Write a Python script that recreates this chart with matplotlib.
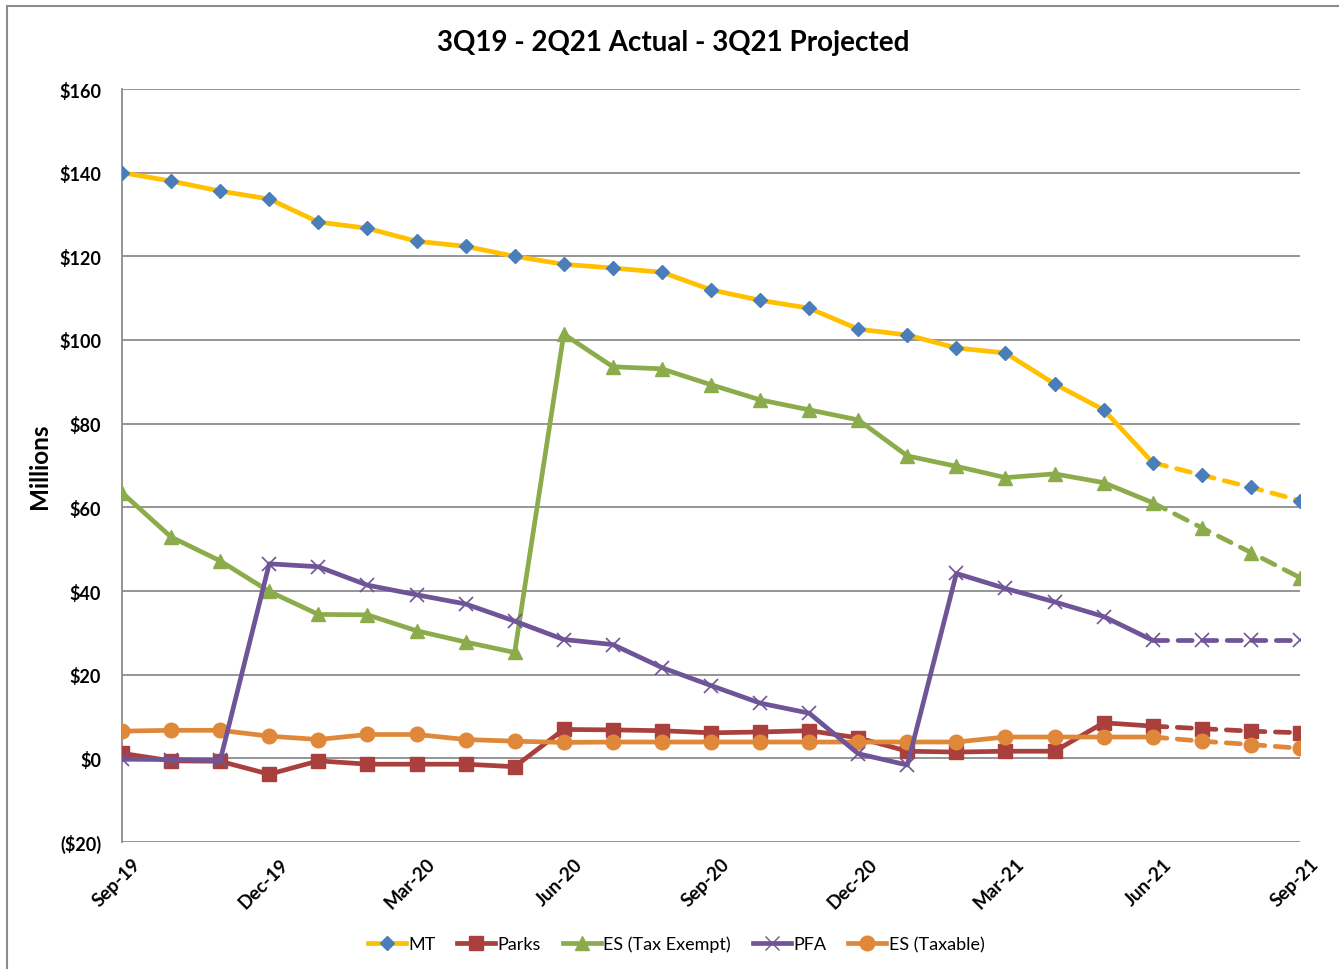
import matplotlib
matplotlib.use('Agg')

import matplotlib.pyplot as plt
import matplotlib.transforms as mtransforms
from matplotlib.lines import Line2D
from matplotlib.patches import Rectangle

# Monthly points, Sep-19 .. Sep-21
months = ['Sep-19', 'Oct-19', 'Nov-19', 'Dec-19', 'Jan-20', 'Feb-20', 'Mar-20', 'Apr-20',
          'May-20', 'Jun-20', 'Jul-20', 'Aug-20', 'Sep-20', 'Oct-20', 'Nov-20', 'Dec-20',
          'Jan-21', 'Feb-21', 'Mar-21', 'Apr-21', 'May-21', 'Jun-21', 'Jul-21', 'Aug-21',
          'Sep-21']

mt = [140.0, 138.0, 135.6, 133.7, 128.2, 126.7, 123.6, 122.4, 120.0, 118.1, 117.2, 116.2,
      112.0, 109.5, 107.6, 102.6, 101.2, 98.1, 96.9, 89.5, 83.3, 70.7, 67.7, 64.8, 61.6]
parks = [1.2, -0.6, -0.7, -3.8, -0.6, -1.4, -1.4, -1.4, -2.0, 6.9, 6.8, 6.6,
         6.1, 6.3, 6.6, 4.9, 1.7, 1.5, 1.7, 1.7, 8.5, 7.7, 7.1, 6.5, 6.1]
es_exempt = [63.5, 52.9, 47.2, 39.9, 34.4, 34.3, 30.5, 27.8, 25.3, 101.4, 93.6, 93.1,
             89.3, 85.7, 83.3, 80.9, 72.3, 69.8, 67.1, 68.0, 65.9, 61.1, 55.1, 49.2, 43.2]
pfa = [-0.2, -0.3, -0.5, 46.5, 45.8, 41.4, 39.1, 36.9, 32.8, 28.4, 27.2, 21.7,
       17.4, 13.2, 10.8, 1.1, -1.6, 44.2, 40.6, 37.4, 33.9, 28.2, 28.2, 28.2, 28.2]
es_taxable = [6.5, 6.7, 6.7, 5.3, 4.5, 5.7, 5.7, 4.5, 4.1, 3.8, 3.9, 3.9,
              3.9, 3.9, 3.9, 3.9, 3.9, 3.9, 5.1, 5.1, 5.1, 5.1, 4.1, 3.3, 2.4]

last_actual = months.index('Jun-21')
tick_months = months[::3]
y_ticks = [-20, 0, 20, 40, 60, 80, 100, 120, 140, 160]

FONT = ['Lato', 'DejaVu Sans']
plt.rcParams['font.family'] = FONT

series = [
    # label, values, line colour, marker, marker face, marker edge, size
    ('MT', mt, '#FFC000', 'D', '#4A7EBB', '#4A7EBB', 7.5),
    ('Parks', parks, '#A9403D', 's', '#A9403D', '#A9403D', 9.5),
    ('ES (Tax Exempt)', es_exempt, '#8CAC4C', '^', '#8CAC4C', '#8CAC4C', 10.5),
    ('PFA', pfa, '#6F5597', 'x', '#6F5597', '#6F5597', 9.5),
    ('ES (Taxable)', es_taxable, '#E0883A', 'o', '#E0883A', '#E0883A', 10.5),
]
zorders = {'MT': 6, 'Parks': 3, 'ES (Tax Exempt)': 4, 'PFA': 5, 'ES (Taxable)': 3.5}

fig = plt.figure(figsize=(13.39, 9.70), dpi=100)
W, H = 1339, 970
ax = fig.add_axes([122 / W, 1 - 843 / H, (1300 - 122) / W, (843 - 90) / H])

x = list(range(len(months)))
handles = []
for label, vals, color, mk, mface, medge, ms in series:
    z = zorders[label]
    # actual part (solid)
    ax.plot(x[:last_actual + 1], vals[:last_actual + 1], color=color, lw=3.4,
            solid_capstyle='round', zorder=z)
    # projected part (dashed)
    ax.plot(x[last_actual:], vals[last_actual:], color=color, lw=3.4,
            dashes=(3.0, 2.2), dash_capstyle='round', zorder=z)
    ax.plot(x, vals, ls='none', marker=mk, ms=ms, markerfacecolor=mface,
            markeredgecolor=medge, mew=1.2 if mk == 'x' else 1, zorder=z + 0.1)
    handles.append(Line2D([0], [0], color=color, lw=3.4, marker=mk, ms=ms,
                          markerfacecolor=mface, markeredgecolor=medge))

ax.set_xlim(0, len(months) - 1)
ax.set_ylim(-20, 160)
ax.set_yticks(y_ticks)
ax.set_yticklabels(['(${})'.format(-v) if v < 0 else '${}'.format(v) for v in y_ticks],
                   fontsize=13, fontweight='bold')
ax.grid(axis='y', color='#8C8C8C', lw=1.3, zorder=0)
ax.set_axisbelow(True)
for side in ['top', 'right', 'bottom']:
    ax.spines[side].set_visible(False)
ax.spines['left'].set_color('#8C8C8C')
ax.spines['left'].set_linewidth(1.3)
ax.tick_params(axis='y', length=0, pad=15)
ax.tick_params(axis='x', length=0)

ax.set_xticks(x[::3])
ax.set_xticklabels(tick_months, rotation=45, ha='right', va='center',
                   rotation_mode='anchor', fontsize=13.5, fontweight='bold')
offset = mtransforms.ScaledTranslation(16 / 100, -14 / 100, fig.dpi_scale_trans)
for lab in ax.get_xticklabels():
    lab.set_transform(lab.get_transform() + offset)

ax.set_ylabel('Millions', fontsize=17.5, fontweight='bold')
ax.yaxis.set_label_coords(-71 / (1300 - 122), 0.5)

fig.text(673 / W, 1 - 43 / H, '3Q19 - 2Q21 Actual - 3Q21 Projected', ha='center',
         va='center', fontsize=20, fontweight='bold')

fig.legend(handles, [s[0] for s in series], loc='center', bbox_to_anchor=(676 / W, 1 - 945 / H),
           ncol=5, frameon=False, fontsize=13, handlelength=2.1, handletextpad=0.15,
           columnspacing=1.2)

# chart border (only top and left visible in the crop)
fig.patches.append(Rectangle((7 / W, -0.1), 1.2, 1 - 7 / H + 0.1, transform=fig.transFigure,
                             fill=False, edgecolor='#8C8C8C', lw=1.5))

fig.savefig('out.png', dpi=100)
